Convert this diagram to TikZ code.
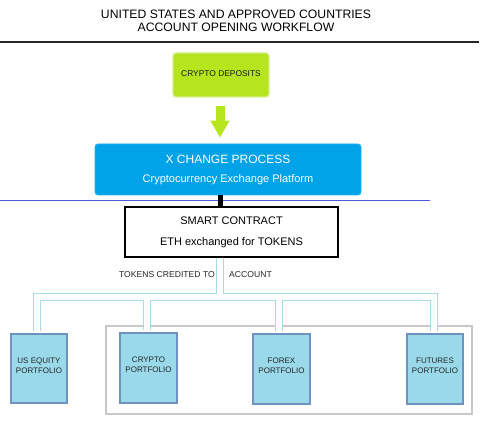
\documentclass[tikz,border=0pt]{standalone}
\usepackage{fontspec}
\setmainfont{Liberation Sans}
\usetikzlibrary{arrows.meta}
\definecolor{cdgreen}{HTML}{B5E61D}
\definecolor{cdgreenborder}{HTML}{D6EC8C}
\definecolor{xblue}{HTML}{00A2E8}
\definecolor{pfill}{HTML}{99D9EA}
\definecolor{pborder}{HTML}{7092BE}
\definecolor{pipeblue}{HTML}{A6DCEA}
\definecolor{rulegray}{HTML}{C8C8C8}
\definecolor{lineblue}{HTML}{4B5BDB}
\begin{document}
\begin{tikzpicture}[x=1pt,y=-1pt,
  titletext/.style={font=\fontsize{12.2}{13}\selectfont, align=center, inner sep=0pt},
  smalltext/.style={font=\fontsize{8.6}{10}\selectfont, inner sep=0pt, text=black!85},
  porttext/.style={font=\fontsize{8}{10}\selectfont, align=center, inner sep=0pt, text=black!85},
  depositbox/.style={draw=cdgreenborder, line width=1.2pt, fill=cdgreen, rounded corners=3pt,
    minimum width=96pt, minimum height=44pt, inner sep=0pt, font=\fontsize{8.4}{10}\selectfont, text=black!90},
  xbox/.style={draw=xblue!85!white, line width=0.8pt, fill=xblue, rounded corners=3pt,
    minimum width=266pt, minimum height=51pt, inner sep=0pt, align=center, text=white,
    font=\fontsize{11}{19}\selectfont},
  smartbox/.style={draw=black, line width=1.3pt, fill=white,
    minimum width=213pt, minimum height=50pt, inner sep=0pt, align=center,
    font=\fontsize{11}{21}\selectfont},
  portbox/.style={draw=pborder, line width=1.3pt, fill=pfill,
    minimum width=56pt, minimum height=69pt, inner sep=0pt},
  bigarrow/.style={draw=cdgreen, line width=9pt, -{Triangle[width=18pt,length=17pt]}},
  pipeouter/.style={draw=pipeblue, line width=8pt},
  pipeinner/.style={draw=white, line width=5.6pt}
]
\useasboundingbox (0,0) rectangle (488,433);

% title
\node[titletext] (title) at (236,20.5) {UNITED STATES AND APPROVED COUNTRIES\\ACCOUNT OPENING WORKFLOW};
\coordinate (ruleL) at (0,42);
\coordinate (ruleR) at (479,42);
\draw[line width=1.2pt, black!85] (ruleL) -- (ruleR);

% boxes
\node[depositbox] (deposits) at (221,75) {\raisebox{2pt}{CRYPTO DEPOSITS}};
\node[xbox] (xchange) at (228,169.5) {{\fontsize{12}{19}\selectfont X CHANGE PROCESS}\\Cryptocurrency Exchange Platform};
\coordinate (blueL) at (0,200.5);
\coordinate (blueR) at (430,200.5);
\draw[lineblue, line width=1.3pt] (blueL) -- (blueR);
\node[smartbox] (smart) at (231.5,232) {SMART CONTRACT\\ETH exchanged for TOKENS};

% green arrow
\draw[bigarrow, shorten <=8pt, shorten >=6pt] ([xshift=-1pt]deposits.south) -- ([xshift=-8pt]xchange.north);

% black connector
\coordinate (link) at (220.5,0);
\draw[line width=5pt] (xchange.south -| link) -- (smart.north -| link);

% group frame
\node[draw=rulegray, line width=1.5pt, minimum width=366pt, minimum height=88pt, inner sep=0pt] (group) at (289,370) {};

% portfolios
\node[portbox, label={[porttext, yshift=2.5pt]center:US EQUITY\\PORTFOLIO}] (usequity) at (39,368.5) {};
\node[portbox, minimum width=57pt, minimum height=70pt, label={[porttext, yshift=3pt]center:CRYPTO\\PORTFOLIO}] (crypto) at (148.5,368) {};
\node[portbox, minimum width=57pt, minimum height=70pt, label={[porttext, yshift=3.5pt]center:FOREX\\PORTFOLIO}] (forex) at (281.5,369) {};
\node[portbox, minimum height=70pt, label={[porttext, yshift=3.5pt]center:FUTURES\\PORTFOLIO}] (futures) at (435,369) {};

% labels
\node[smalltext] (credited) at (167,275) {TOKENS CREDITED TO};
\node[smalltext] (account) at (250.5,275) {ACCOUNT};

% pipes
\coordinate (trunk) at (220,0);
\coordinate (bus) at (0,297);
\foreach \b/\dx in {usequity/-2, crypto/-1.5, forex/-2.5, futures/-1}
  \draw[pipeouter] (smart.south -| trunk) |- ([xshift=\dx pt]\b.north |- bus) -- ([xshift=\dx pt, yshift=2pt]\b.north);
\foreach \b/\dx in {usequity/-2, crypto/-1.5, forex/-2.5, futures/-1}
  \draw[pipeinner] (smart.south -| trunk) |- ([xshift=\dx pt]\b.north |- bus) -- ([xshift=\dx pt, yshift=2pt]\b.north);
\end{tikzpicture}
\end{document}
